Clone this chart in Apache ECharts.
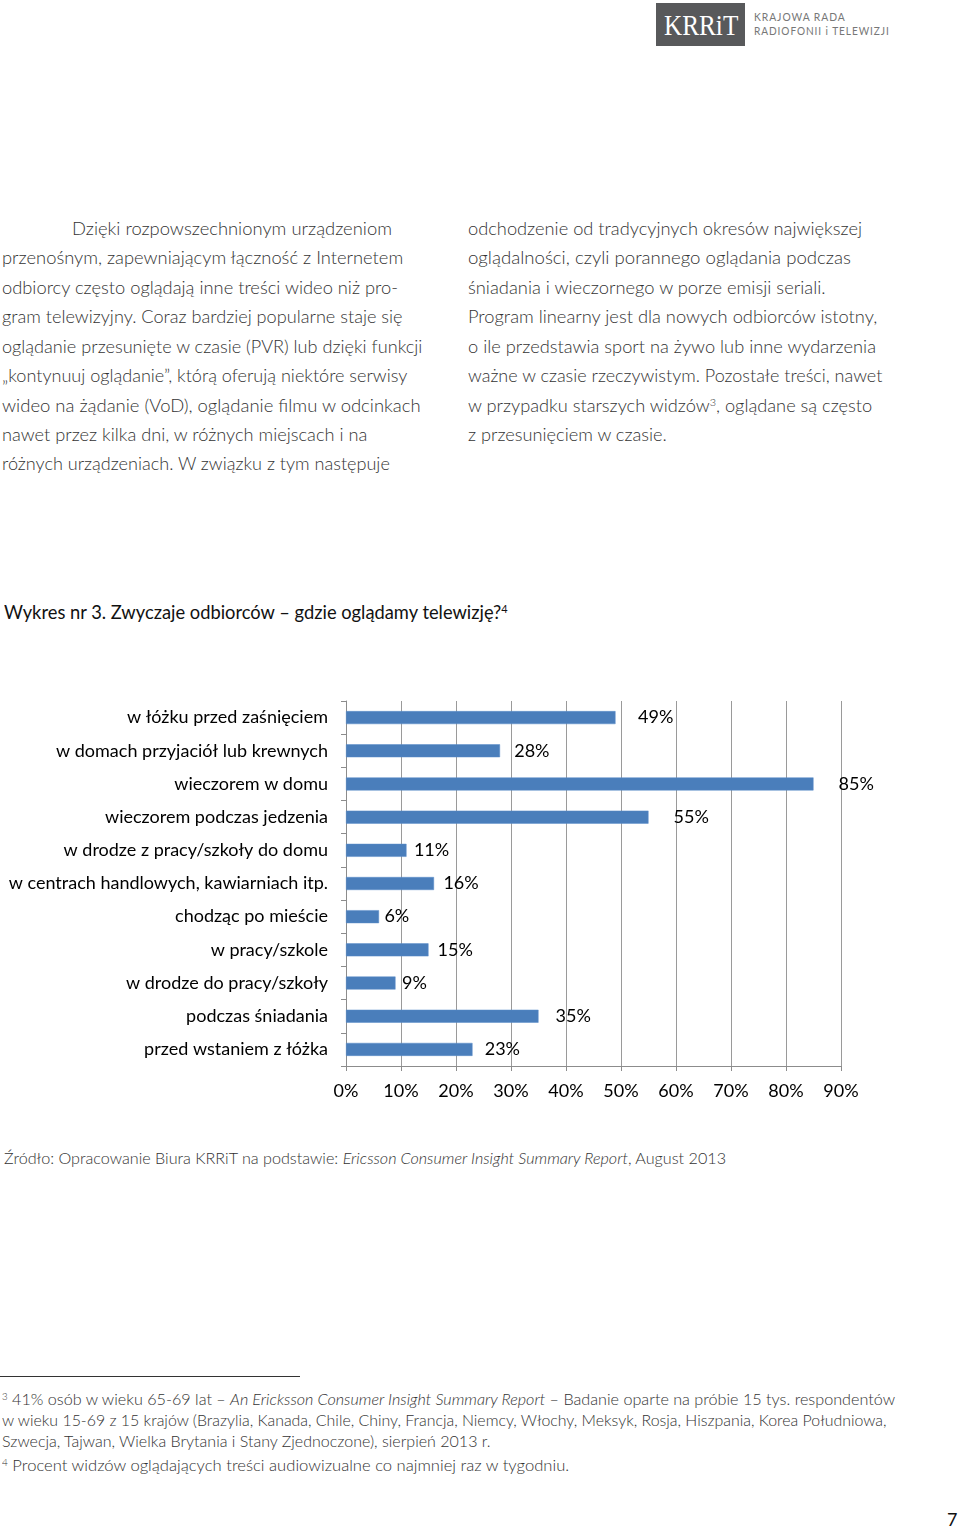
<!DOCTYPE html>
<html>
<head>
<meta charset="utf-8">
<script src="https://cdn.jsdelivr.net/npm/echarts@6/dist/echarts.min.js"></script>
<style>
  html, body { margin:0; padding:0; background:#fff; }
  body { width:960px; height:1528px; position:relative; overflow:hidden; }
  .ln { position:absolute; white-space:nowrap; height:24px; line-height:24px; transform-origin:0 50%; }
  .body { font-family: Lato, "Noto Sans", sans-serif; font-weight:300; font-size:17px; color:#333; }
  .fn { font-family: Lato, "Noto Sans", sans-serif; font-weight:300; font-size:15px; color:#333; }
  sup { font-size:0.6em; vertical-align:0.55em; line-height:0; }
  #chart { position:absolute; left:0; top:690px; width:960px; height:430px; }
</style>
</head>
<body>
<!-- Logo -->
<div style="position:absolute;left:656px;top:3px;width:89px;height:43px;background:#58595b;"></div>
<div class="ln" data-w="74" style="left:664px;top:13px;font-family:'Liberation Serif',serif;font-size:30px;color:#fff;">KRRiT</div>
<div class="ln" data-w="92" style="left:754px;top:5px;font-family:Lato,sans-serif;font-size:11px;color:#777;letter-spacing:1px;">KRAJOWA RADA</div>
<div class="ln" data-w="136" style="left:754px;top:19px;font-family:Lato,sans-serif;font-size:11px;color:#777;letter-spacing:1px;">RADIOFONII i TELEWIZJI</div>

<!-- Left column -->
<div class="ln body" data-w="320" style="left:72px;top:217px;">Dzięki rozpowszechnionym urządzeniom</div>
<div class="ln body" data-w="401" style="left:2px;top:246px;">przenośnym, zapewniającym łączność z Internetem</div>
<div class="ln body" data-w="396" style="left:2px;top:276px;">odbiorcy często oglądają inne treści wideo niż pro-</div>
<div class="ln body" data-w="401" style="left:2px;top:305px;">gram telewizyjny. Coraz bardziej popularne staje się</div>
<div class="ln body" data-w="420" style="left:2px;top:335px;">oglądanie przesunięte w czasie (PVR) lub dzięki funkcji</div>
<div class="ln body" data-w="405" style="left:2px;top:364px;">„kontynuuj oglądanie”, którą oferują niektóre serwisy</div>
<div class="ln body" data-w="419" style="left:2px;top:394px;">wideo na żądanie (VoD), oglądanie filmu w odcinkach</div>
<div class="ln body" data-w="365" style="left:2px;top:423px;">nawet przez kilka dni, w różnych miejscach i na</div>
<div class="ln body" data-w="388" style="left:2px;top:452px;">różnych urządzeniach. W związku z tym następuje</div>

<!-- Right column -->
<div class="ln body" data-w="394" style="left:468px;top:217px;">odchodzenie od tradycyjnych okresów największej</div>
<div class="ln body" data-w="383" style="left:468px;top:246px;">oglądalności, czyli porannego oglądania podczas</div>
<div class="ln body" data-w="358" style="left:468px;top:276px;">śniadania i wieczornego w porze emisji seriali.</div>
<div class="ln body" data-w="409" style="left:468px;top:305px;">Program linearny jest dla nowych odbiorców istotny,</div>
<div class="ln body" data-w="408" style="left:468px;top:335px;">o ile przedstawia sport na żywo lub inne wydarzenia</div>
<div class="ln body" data-w="414" style="left:468px;top:364px;">ważne w czasie rzeczywistym. Pozostałe treści, nawet</div>
<div class="ln body" data-w="404" style="left:468px;top:394px;">w przypadku starszych widzów<sup>3</sup>, oglądane są często</div>
<div class="ln body" data-w="199" style="left:468px;top:423px;">z przesunięciem w czasie.</div>

<!-- Chart title -->
<div class="ln" data-w="504" style="left:4px;top:600px;font-family:Lato,sans-serif;font-size:19px;color:#111;">Wykres nr 3. Zwyczaje odbiorców – gdzie oglądamy telewizję?<sup>4</sup></div>

<div id="chart"></div>

<!-- Source -->
<div class="ln fn" data-w="722" style="left:4px;top:1146px;font-size:16px;">Źródło: Opracowanie Biura KRRiT na podstawie: <i>Ericsson Consumer Insight Summary Report</i>, August 2013</div>

<!-- Footnotes -->
<div style="position:absolute;left:0;top:1376px;width:300px;height:1px;background:#333;"></div>
<div class="ln fn" data-w="893" style="left:2px;top:1387px;"><sup>3</sup> 41% osób w wieku 65-69 lat – <i>An Ericksson Consumer Insight Summary Report</i> – Badanie oparte na próbie 15 tys. respondentów</div>
<div class="ln fn" data-w="884" style="left:2px;top:1408px;">w wieku 15-69 z 15 krajów (Brazylia, Kanada, Chile, Chiny, Francja, Niemcy, Włochy, Meksyk, Rosja, Hiszpania, Korea Południowa,</div>
<div class="ln fn" data-w="489" style="left:2px;top:1429px;">Szwecja, Tajwan, Wielka Brytania i Stany Zjednoczone), sierpień 2013 r.</div>
<div class="ln fn" data-w="567" style="left:2px;top:1453px;"><sup>4</sup> Procent widzów oglądających treści audiowizualne co najmniej raz w tygodniu.</div>

<div class="ln" style="left:947px;top:1507px;font-family:Lato,sans-serif;font-size:18px;color:#111;">7</div>

<script>
// ---- Data ----
var categories = [
  'w łóżku przed zaśnięciem',
  'w domach przyjaciół lub krewnych',
  'wieczorem w domu',
  'wieczorem podczas jedzenia',
  'w drodze z pracy/szkoły do domu',
  'w centrach handlowych, kawiarniach itp.',
  'chodząc po mieście',
  'w pracy/szkole',
  'w drodze do pracy/szkoły',
  'podczas śniadania',
  'przed wstaniem z łóżka'
];
var values = [49, 28, 85, 55, 11, 16, 6, 15, 9, 35, 23];
var axisMin = 0, axisMax = 90, axisStep = 10;

// ---- Text fitting ----
function fitLines() {
  document.querySelectorAll('.ln[data-w]').forEach(function (el) {
    el.style.transform = 'none';
    var w = el.scrollWidth;
    var t = parseFloat(el.getAttribute('data-w'));
    if (w > 0) el.style.transform = 'scaleX(' + (t / w) + ')';
  });
}

// ---- Chart ----
var chart = echarts.init(document.getElementById('chart'), null, { renderer: 'canvas' });
var FONT = 'Lato, "Noto Sans", sans-serif';
var seriesData = values.map(function (v) {
  return { value: v, label: { distance: Math.min(25, 3 + v * 0.4) } };
});
chart.setOption({
  animation: false,
  grid: { left: 346, right: 119, top: 11, bottom: 54, containLabel: false },
  xAxis: {
    type: 'value', min: axisMin, max: axisMax, interval: axisStep,
    axisLine: { show: true, lineStyle: { color: '#8c8c8c', width: 1 } },
    axisTick: { show: true, length: 5, lineStyle: { color: '#8c8c8c' } },
    splitLine: { show: true, lineStyle: { color: '#9a9a9a', width: 1 } },
    axisLabel: { formatter: '{value}%', fontFamily: FONT, fontSize: 18, color: '#000', margin: 16 }
  },
  yAxis: {
    type: 'category', inverse: true, data: categories,
    axisLine: { show: true, lineStyle: { color: '#8c8c8c', width: 1 } },
    axisTick: { show: true, length: 5, alignWithLabel: false, lineStyle: { color: '#8c8c8c' } },
    axisLabel: { fontFamily: FONT, fontSize: 18, color: '#000', margin: 18 }
  },
  series: [{
    type: 'bar',
    data: seriesData,
    barWidth: 13,
    itemStyle: { color: '#4a7ebb', borderColor: '#5a8dc8', borderWidth: 0.5 },
    label: {
      show: true, position: 'right', formatter: '{c}%',
      fontFamily: FONT, fontSize: 18, color: '#000'
    }
  }]
});

if (document.fonts && document.fonts.ready) {
  document.fonts.ready.then(fitLines);
}
fitLines();
</script>
</body>
</html>
